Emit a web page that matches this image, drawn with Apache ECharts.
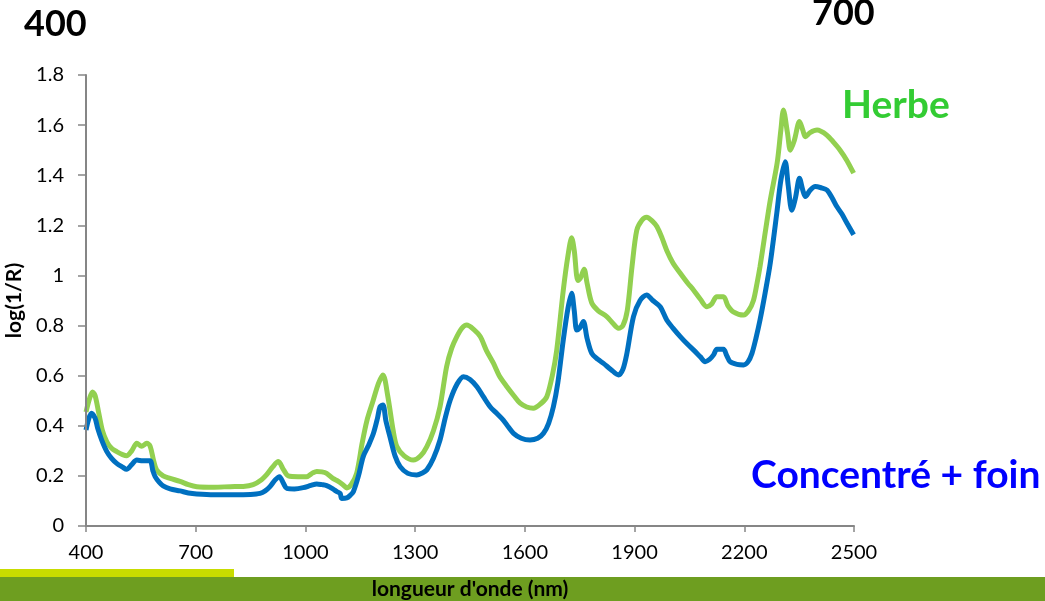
<!DOCTYPE html>
<html>
<head>
<meta charset="utf-8">
<script src="https://cdn.jsdelivr.net/npm/echarts@6/dist/echarts.min.js"></script>
<style>
html,body{margin:0;padding:0;background:#fff;}
#chart{width:1045px;height:601px;}
</style>
</head>
<body>
<div id="chart"></div>
<script>
// Wavelengths (nm) and log(1/R) values
const herbeX = [400,410,418,425,435,445,457,470,484,500,511,525,539,552,566,575,585,593,611,630,657,680,703,750,794,830,857,880,894,910,926,940,953,980,1003,1020,1031,1045,1058,1075,1090,1104,1113,1125,1140,1155,1168,1185,1200,1212,1225,1240,1250,1270,1295,1315,1332,1350,1368,1386,1400,1414,1428,1441,1460,1478,1495,1514,1530,1551,1570,1587,1605,1623,1645,1660,1675,1687,1705,1718,1728,1735,1745,1752,1762,1770,1783,1800,1824,1840,1856,1868,1880,1893,1906,1920,1933,1950,1961,1975,1988,2005,2025,2045,2061,2080,2098,2110,2125,2143,2155,2170,2198,2212,2225,2235,2243,2255,2271,2290,2300,2307,2318,2326,2337,2351,2360,2367,2380,2399,2426,2445,2462,2480,2499];
const herbeY = [0.455,0.51,0.535,0.52,0.45,0.38,0.336,0.31,0.297,0.285,0.28,0.30,0.33,0.318,0.33,0.32,0.26,0.224,0.20,0.19,0.178,0.165,0.157,0.155,0.157,0.158,0.165,0.185,0.205,0.235,0.257,0.225,0.20,0.197,0.197,0.212,0.218,0.216,0.21,0.19,0.178,0.163,0.152,0.165,0.21,0.33,0.42,0.50,0.57,0.603,0.52,0.38,0.317,0.28,0.263,0.28,0.317,0.38,0.476,0.636,0.71,0.756,0.79,0.802,0.785,0.756,0.70,0.65,0.60,0.556,0.52,0.49,0.475,0.47,0.49,0.516,0.60,0.70,0.94,1.08,1.15,1.10,0.98,0.99,1.025,0.97,0.89,0.86,0.836,0.81,0.789,0.80,0.86,1.035,1.18,1.22,1.232,1.215,1.195,1.15,1.10,1.05,1.009,0.97,0.942,0.905,0.875,0.885,0.915,0.915,0.88,0.855,0.842,0.86,0.90,0.97,1.035,1.15,1.30,1.45,1.58,1.66,1.57,1.50,1.54,1.614,1.58,1.554,1.57,1.58,1.56,1.53,1.50,1.46,1.408];

const foinX = [400,408,415,425,432,443,457,470,484,500,511,525,539,555,575,583,589,600,611,630,657,680,703,750,800,850,876,890,903,918,929,940,949,970,994,1015,1031,1045,1058,1075,1086,1095,1099,1113,1122,1131,1145,1158,1172,1186,1197,1204,1212,1220,1231,1245,1259,1280,1304,1320,1332,1350,1368,1382,1396,1414,1432,1450,1469,1487,1505,1523,1541,1555,1569,1590,1614,1635,1651,1665,1678,1690,1705,1718,1728,1735,1742,1750,1760,1770,1783,1800,1815,1835,1856,1868,1879,1897,1915,1933,1950,1970,1988,2005,2025,2045,2061,2080,2093,2105,2116,2125,2143,2152,2161,2180,2198,2210,2221,2232,2243,2257,2271,2289,2300,2312,2320,2330,2340,2351,2360,2367,2380,2394,2410,2426,2440,2453,2467,2481,2499];
const foinY = [0.383,0.43,0.45,0.43,0.39,0.343,0.297,0.27,0.25,0.235,0.226,0.245,0.263,0.26,0.26,0.22,0.197,0.175,0.16,0.148,0.14,0.132,0.128,0.125,0.125,0.126,0.13,0.14,0.157,0.185,0.197,0.17,0.15,0.148,0.153,0.162,0.168,0.165,0.161,0.148,0.137,0.13,0.11,0.112,0.122,0.137,0.2,0.277,0.32,0.37,0.43,0.476,0.483,0.42,0.357,0.28,0.237,0.21,0.204,0.212,0.224,0.27,0.343,0.43,0.503,0.565,0.596,0.585,0.556,0.515,0.476,0.45,0.423,0.395,0.37,0.35,0.343,0.35,0.37,0.41,0.476,0.57,0.742,0.87,0.929,0.86,0.782,0.79,0.816,0.75,0.689,0.665,0.649,0.625,0.603,0.625,0.689,0.836,0.90,0.922,0.90,0.875,0.822,0.79,0.756,0.725,0.703,0.675,0.656,0.665,0.683,0.705,0.705,0.68,0.656,0.645,0.643,0.655,0.689,0.75,0.822,0.93,1.049,1.25,1.38,1.454,1.36,1.26,1.31,1.388,1.34,1.315,1.34,1.355,1.35,1.341,1.31,1.275,1.245,1.208,1.162];

const xMin = 400, xMax = 2500, xStep = 300;
const yMin = 0, yMax = 1.8, yStep = 0.2;
const seriesNames = ['Herbe', 'Concentré + foin'];
const xAxisTitle = "longueur d'onde (nm)";
const yAxisTitle = 'log(1/R)';
const cornerLabels = ['400', '700'];

const pairs = (xs, ys) => xs.map((x, i) => [x, ys[i]]);
const FONT = 'Lato, "Open Sans", sans-serif';

const chart = echarts.init(document.getElementById('chart'), null, {renderer: 'canvas'});
chart.setOption({
  animation: false,
  backgroundColor: '#ffffff',
  grid: {left: 86, right: 191, top: 75, bottom: 75, containLabel: false, outerBoundsMode: 'none'},
  xAxis: {
    type: 'value', min: xMin, max: xMax, interval: xStep, z: 10,
    name: xAxisTitle, nameLocation: 'middle', nameGap: 53,
    nameTextStyle: {fontFamily: FONT, fontWeight: 'bold', fontSize: 21, color: '#000'},
    axisLine: {show: true, lineStyle: {color: '#868686', width: 2}},
    axisTick: {show: true, length: 6, lineStyle: {color: '#868686', width: 1.5}},
    axisLabel: {fontFamily: FONT, fontSize: 20, color: '#000', margin: 17,
      formatter: v => String(v)},
    splitLine: {show: false}
  },
  yAxis: {
    type: 'value', min: yMin, max: yMax, interval: yStep, z: 10,
    name: yAxisTitle, nameLocation: 'middle', nameGap: 53,
    nameTextStyle: {fontFamily: FONT, fontWeight: 'bold', fontSize: 21, color: '#000'},
    axisLine: {show: true, lineStyle: {color: '#868686', width: 2}},
    axisTick: {show: true, length: 8, lineStyle: {color: '#868686', width: 1.5}},
    axisLabel: {fontFamily: FONT, fontSize: 20, color: '#000', margin: 22,
      formatter: v => String(Math.round(v * 10) / 10)},
    splitLine: {show: false}
  },
  series: [
    {name: seriesNames[0], type: 'line', data: pairs(herbeX, herbeY), showSymbol: false,
      smooth: 0.3, lineStyle: {color: '#92D050', width: 5}, z: 3},
    {name: seriesNames[1], type: 'line', data: pairs(foinX, foinY), showSymbol: false,
      smooth: 0.3, lineStyle: {color: '#0070C0', width: 5}, z: 4}
  ],
  graphic: [
    {type: 'rect', z: -10, shape: {x: 0, y: 569, width: 234, height: 9}, style: {fill: '#C8DC00'}},
    {type: 'rect', z: -10, shape: {x: 0, y: 577, width: 1045, height: 24}, style: {fill: '#6E9E20'}},
    {type: 'text', left: 24, top: 6, style: {text: cornerLabels[0], font: 'bold 36px ' + FONT, fill: '#000'}},
    {type: 'text', left: 812, top: -5, style: {text: cornerLabels[1], font: 'bold 36px ' + FONT, fill: '#000'}},
    {type: 'text', left: 842, top: 86, style: {text: seriesNames[0], font: 'bold 39px ' + FONT, fill: '#33CC33'}},
    {type: 'text', left: 751, top: 456, style: {text: seriesNames[1], font: 'bold 39px ' + FONT, fill: '#0000FF'}}
  ]
});
</script>
</body>
</html>
